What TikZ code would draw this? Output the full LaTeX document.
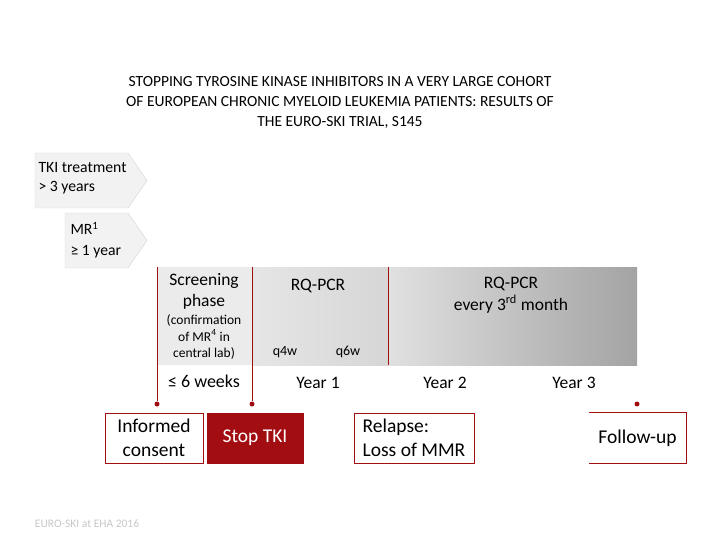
\documentclass[tikz,border=0pt]{standalone}
\usepackage{fontspec}
\setmainfont{Carlito}
\usetikzlibrary{positioning}
\definecolor{ekired}{HTML}{A20D12}
\definecolor{arrowfill}{HTML}{F2F2F2}
\definecolor{arrowline}{HTML}{D4D4D4}
\begin{document}
\begin{tikzpicture}[x=1pt,y=-1pt,
  box/.style={draw=ekired,line width=.8pt,minimum height=50pt,inner sep=2pt,align=center,font=\fontsize{19.5}{24}\selectfont},
  reddot/.style={circle,fill=ekired,inner sep=0pt,minimum size=5pt},
  redline/.style={draw=ekired,line width=.9pt},
  bandtext/.style={align=center,font=\fontsize{17.5}{21}\selectfont},
  smalltext/.style={align=center,font=\fontsize{14}{17}\selectfont}]
\useasboundingbox (0,0) rectangle (720,540);
\node[align=center,font=\fontsize{15.5}{20}\selectfont] (title) at (340,102) {STOPPING TYROSINE KINASE INHIBITORS IN A VERY LARGE COHORT\\OF EUROPEAN CHRONIC MYELOID LEUKEMIA PATIENTS: RESULTS OF\\THE EURO-SKI TRIAL, S145};
% entry criteria
\path[fill=arrowfill,draw=arrowline] (35,153) -- (128,153) -- (147,180.5) -- (128,208) -- (35,208) -- cycle;
\node[anchor=west,align=left,font=\fontsize{15.7}{19}\selectfont] (tki) at (35,178) {TKI treatment\\> 3 years};
\path[fill=arrowfill,draw=arrowline] (65,213) -- (128,213) -- (147,240.5) -- (128,268) -- (65,268) -- cycle;
\node[anchor=west,align=left,font=\fontsize{15.7}{21}\selectfont] (mr) at (67,240) {MR\textsuperscript{1}\\≥ 1 year};
% time line band
\fill[black!8] (157,267) rectangle (252,365);
\shade[left color=black!10,right color=black!16] (252,267) rectangle (388,365);
\shade[left color=black!12,right color=black!36] (388,267) rectangle (637,365);
\node[bandtext] (screen) at (204,291) {Screening\\phase};
\node[smalltext,font=\fontsize{13.5}{16.5}\selectfont] (confirm) at (204,337) {(confirmation\\of MR\textsuperscript{4} in\\central lab)};
\node[bandtext] (pcr1) at (318,286) {RQ-PCR};
\node[smalltext] (q4w) at (285,352) {q4w};
\node[smalltext] (q6w) at (348,352) {q6w};
\node[bandtext,font=\fontsize{17.5}{22}\selectfont] (pcr2) at (511,295) {RQ-PCR\\every 3\textsuperscript{rd} month};
\node[bandtext,font=\fontsize{18}{21}\selectfont] (weeks) at (204,381) {≤ 6 weeks};
\node[bandtext] (year1) at (318,383) {Year 1};
\node[bandtext] (year2) at (445,383) {Year 2};
\node[bandtext] (year3) at (574,383) {Year 3};
% markers
\coordinate (s0) at (157,267);
\coordinate (s1) at (252,267);
\coordinate (s2) at (388,267);
\coordinate (e2) at (388,365);
\node[reddot] (d0) at (157,404) {};
\node[reddot] (d1) at (252,404) {};
\node[reddot] (d3) at (637,404) {};
\draw[redline] (s0) -- (d0);
\draw[redline] (s1) -- (d1);
\draw[redline] (s2) -- (e2);
% events
\node[box,minimum width=98pt] (consent) at (154,438) {Informed\\consent};
\node[box,fill=ekired,text=white,minimum width=96pt] (stop) at (255,438) {Stop TKI};
\node[box,minimum width=120pt,align=left] (relapse) at (414,438) {Relapse:\\Loss of MMR};
\node[box,draw=none,minimum width=97pt] (follow) at (637.5,438) {Follow-up};
\draw[redline,line width=.8pt] (follow.north west) -- (follow.north east) -- (follow.south east) -- (follow.south west);
\node[text=black!22,font=\fontsize{11.5}{13}\selectfont] (footer) at (87,524) {EURO-SKI at EHA 2016};
\end{tikzpicture}
\end{document}
